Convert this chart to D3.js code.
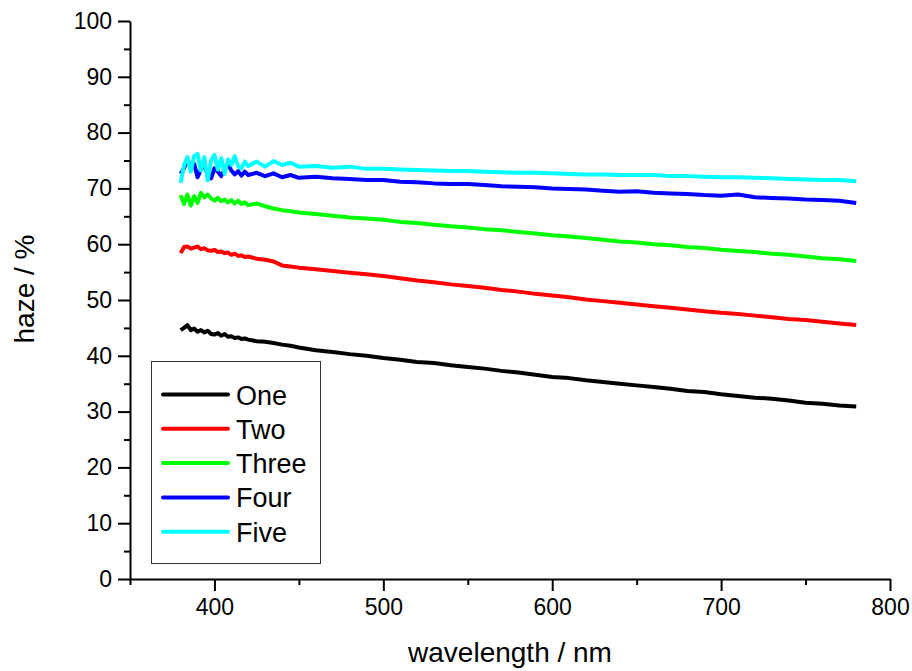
<!DOCTYPE html>
<html>
<head>
<meta charset="utf-8">
<script src="https://cdn.jsdelivr.net/npm/d3@7"></script>
<style>
  body { margin: 0; background: #fff; }
  svg { font-family: Arial, "Liberation Sans", sans-serif; }
</style>
</head>
<body>
<svg id="chart" width="912" height="671"></svg>
<script>
const seriesNames = ["One", "Two", "Three", "Four", "Five"];
const seriesColors = ["#000000", "#ff0000", "#00ff00", "#0000ff", "#00ffff"];

const wavelengths = [
    380, 382, 384, 386, 388, 390, 392, 394, 396, 398, 400, 402, 404, 406, 408, 410, 412, 414, 416, 418, 420,
    425, 430, 435, 440, 445, 450,
    460, 470, 480, 490, 500, 510, 520, 530, 540, 550, 560, 570, 580, 590, 600, 610, 620, 630, 640, 650,
    660, 670, 680, 690, 700, 710, 720, 730, 740, 750, 760, 770, 780
];

const hazeOne = [
    44.6, 45.0, 45.5, 44.6, 44.9, 44.3, 44.6, 44.2, 44.5, 43.9, 43.8, 44.1, 43.6, 43.9, 43.4, 43.5, 43.2, 43.3, 43.0, 43.1, 42.9,
    42.6, 42.5, 42.3, 42.0, 41.8, 41.5,
    41.0, 40.7, 40.3, 40.0, 39.6, 39.3, 38.9, 38.7, 38.3, 38.0, 37.7, 37.3, 37.0, 36.6, 36.2, 36.0, 35.6, 35.3, 35.0, 34.7,
    34.4, 34.1, 33.7, 33.5, 33.1, 32.8, 32.5, 32.3, 32.0, 31.6, 31.4, 31.1, 30.9
];
const hazeTwo = [
    58.4, 59.5, 59.6, 59.2, 59.4, 59.6, 59.1, 59.3, 58.9, 58.8, 59.0, 58.6, 58.7, 58.4, 58.5, 58.1, 58.3, 57.9, 58.0, 57.7, 57.8,
    57.4, 57.2, 56.9, 56.2, 56.0, 55.8,
    55.5, 55.2, 54.9, 54.6, 54.3, 53.9, 53.5, 53.2, 52.8, 52.5, 52.2, 51.8, 51.5, 51.1, 50.8, 50.5, 50.1, 49.8, 49.5, 49.2,
    48.9, 48.6, 48.3, 48.0, 47.7, 47.5, 47.2, 46.9, 46.6, 46.4, 46.1, 45.8, 45.5
];
const hazeThree = [
    68.8, 67.2, 68.9, 66.9, 68.6, 67.4, 69.2, 68.4, 68.9, 68.2, 67.8, 68.3, 67.7, 68.0, 67.5, 67.9, 67.3, 67.8, 67.2, 67.5, 67.0,
    67.3, 66.8, 66.4, 66.1, 65.9, 65.7,
    65.4, 65.1, 64.8, 64.6, 64.4, 64.0, 63.8, 63.5, 63.2, 63.0, 62.7, 62.5, 62.2, 61.9, 61.6, 61.4, 61.1, 60.8, 60.5, 60.3,
    60.0, 59.8, 59.5, 59.3, 59.0, 58.8, 58.6, 58.3, 58.1, 57.8, 57.5, 57.3, 57.0
];
const hazeFour = [
    72.6, 73.6, 75.2, 73.8, 74.4, 72.0, 73.4, 74.2, 72.4, 71.8, 73.6, 73.0, 72.2, 73.4, 74.4, 73.2, 72.5, 73.1, 72.3, 73.0, 72.4,
    72.8, 72.2, 72.7, 72.0, 72.4, 71.9,
    72.1, 71.8, 71.7, 71.5, 71.5, 71.2, 71.1, 70.9, 70.8, 70.8, 70.6, 70.4, 70.3, 70.2, 70.0, 69.9, 69.8, 69.6, 69.4, 69.5,
    69.2, 69.1, 69.0, 68.8, 68.7, 68.9, 68.4, 68.3, 68.2, 68.0, 67.9, 67.8, 67.4
];
const hazeFive = [
    71.0, 74.2, 75.6, 73.0, 75.8, 76.2, 73.2, 75.6, 71.4, 75.0, 76.0, 73.4, 75.4, 72.6, 75.2, 74.2, 75.8, 74.0, 73.6, 74.8, 74.0,
    74.8, 73.9, 74.9, 74.2, 74.6, 73.9,
    74.0, 73.7, 73.9, 73.5, 73.5, 73.4, 73.3, 73.2, 73.1, 73.1, 73.0, 72.9, 72.8, 72.8, 72.7, 72.6, 72.5, 72.5, 72.4, 72.4,
    72.4, 72.2, 72.2, 72.1, 72.0, 72.0, 71.9, 71.8, 71.7, 71.6, 71.5, 71.5, 71.3
];
const seriesValues = [hazeOne, hazeTwo, hazeThree, hazeFour, hazeFive];

const xTicks = [400, 500, 600, 700, 800];
const xMinorTicks = [350, 450, 550, 650, 750];
const yTicks = [0, 10, 20, 30, 40, 50, 60, 70, 80, 90, 100];
const yMinorTicks = [5, 15, 25, 35, 45, 55, 65, 75, 85, 95];

const svg = d3.select("#chart");
const plotLeft = 130, plotRight = 890, plotTop = 21, plotBottom = 579;

const x = d3.scaleLinear().domain([350, 800]).range([plotLeft, plotRight]);
const y = d3.scaleLinear().domain([0, 100]).range([plotBottom, plotTop]);

// minor ticks first, then the major axes on top
svg.append("g")
    .attr("transform", "translate(0," + plotBottom + ")")
    .call(d3.axisBottom(x).tickValues(xMinorTicks).tickSize(6).tickSizeOuter(0).tickFormat(""))
    .call(g => g.select(".domain").remove());
svg.append("g")
    .attr("transform", "translate(" + plotLeft + ",0)")
    .call(d3.axisLeft(y).tickValues(yMinorTicks).tickSize(6).tickSizeOuter(0).tickFormat(""))
    .call(g => g.select(".domain").remove());

const xAxis = svg.append("g")
    .attr("transform", "translate(0," + plotBottom + ")")
    .call(d3.axisBottom(x).tickValues(xTicks).tickSize(12).tickSizeOuter(0).tickPadding(8));
const yAxis = svg.append("g")
    .attr("transform", "translate(" + plotLeft + ",0)")
    .call(d3.axisLeft(y).tickValues(yTicks).tickSize(12).tickSizeOuter(0).tickPadding(6));

[xAxis, yAxis].forEach(g => {
    g.selectAll("path, line").attr("stroke", "#000").attr("stroke-width", 2);
    g.selectAll("text").attr("fill", "#000").style("font-size", "23px")
        .style("font-family", "Arial, 'Liberation Sans', sans-serif");
});
svg.selectAll("g line").attr("stroke-width", 2);

svg.append("text")
    .attr("x", (plotLeft + plotRight) / 2)
    .attr("y", 662)
    .attr("text-anchor", "middle")
    .style("font-size", "28px")
    .text("wavelength / nm");

svg.append("text")
    .attr("transform", "translate(34,289) rotate(-90)")
    .attr("text-anchor", "middle")
    .style("font-size", "28px")
    .text("haze / %");

const line = d3.line()
    .x((d, i) => x(wavelengths[i]))
    .y(d => y(d));

svg.append("g")
    .selectAll("path")
    .data(seriesValues)
    .join("path")
        .attr("fill", "none")
        .attr("stroke", (d, i) => seriesColors[i])
        .attr("stroke-width", 4)
        .attr("stroke-linejoin", "round")
        .attr("d", line);

// legend
const legend = svg.append("g");
legend.append("rect")
    .attr("x", 151.5).attr("y", 361.5)
    .attr("width", 169).attr("height", 202)
    .attr("fill", "#fff")
    .attr("stroke", "#333")
    .attr("stroke-width", 1);

const items = legend.selectAll(".item")
    .data(seriesNames)
    .join("g")
        .attr("class", "item")
        .attr("transform", (d, i) => "translate(0," + (394.5 + i * 34.3) + ")");
items.append("line")
    .attr("x1", 163).attr("x2", 228)
    .attr("stroke", (d, i) => seriesColors[i])
    .attr("stroke-width", 4)
    .attr("stroke-linecap", "round");
items.append("text")
    .attr("x", 236).attr("y", 10)
    .style("font-size", "27px")
    .text(d => d);
</script>
</body>
</html>
